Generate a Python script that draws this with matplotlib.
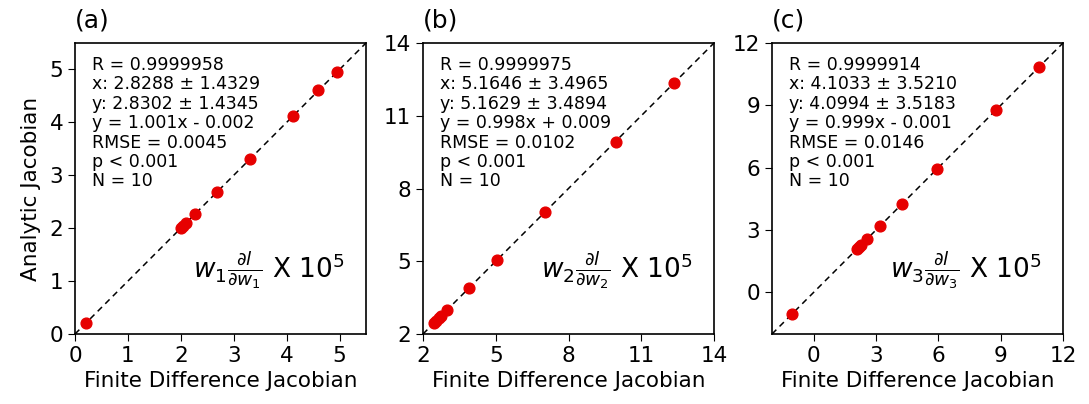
import numpy as np
import matplotlib.pyplot as plt

# finite difference vs analytic jacobian values (x 1e5)
fd_w1 = [0.20, 2.00, 2.05, 2.10, 2.27, 2.68, 3.30, 4.12, 4.60, 4.95]
an_w1 = [0.20, 2.00, 2.05, 2.10, 2.27, 2.68, 3.30, 4.12, 4.61, 4.96]
fd_w2 = [2.45, 2.55, 2.65, 2.75, 3.00, 3.90, 5.05, 7.05, 9.95, 12.35]
an_w2 = [2.45, 2.55, 2.65, 2.75, 3.00, 3.90, 5.05, 7.05, 9.93, 12.33]
fd_w3 = [-1.05, 2.10, 2.20, 2.30, 2.55, 3.20, 4.25, 5.95, 8.80, 10.85]
an_w3 = [-1.05, 2.10, 2.20, 2.30, 2.55, 3.20, 4.25, 5.95, 8.78, 10.83]

stats_w1 = ["R = 0.9999958", "x: 2.8288 ± 1.4329", "y: 2.8302 ± 1.4345",
            "y = 1.001x - 0.002", "RMSE = 0.0045", "p < 0.001", "N = 10"]
stats_w2 = ["R = 0.9999975", "x: 5.1646 ± 3.4965", "y: 5.1629 ± 3.4894",
            "y = 0.998x + 0.009", "RMSE = 0.0102", "p < 0.001", "N = 10"]
stats_w3 = ["R = 0.9999914", "x: 4.1033 ± 3.5210", "y: 4.0994 ± 3.5183",
            "y = 0.999x - 0.001", "RMSE = 0.0146", "p < 0.001", "N = 10"]

panels = [
  ("(a)", fd_w1, an_w1, stats_w1, (0, 5.5), [0, 1, 2, 3, 4, 5], r"$w_1\frac{\partial l}{\partial w_1}$ X $10^5$"),
  ("(b)", fd_w2, an_w2, stats_w2, (2, 14), [2, 5, 8, 11, 14], r"$w_2\frac{\partial l}{\partial w_2}$ X $10^5$"),
  ("(c)", fd_w3, an_w3, stats_w3, (-2, 12), [0, 3, 6, 9, 12], r"$w_3\frac{\partial l}{\partial w_3}$ X $10^5$"),
]

fig = plt.figure(figsize=(10.89, 4.04), dpi=100)
lefts = [75, 423, 772]
for i, (tag, xs, ys, stats, lim, ticks, label) in enumerate(panels):
  ax = fig.add_axes([lefts[i]/1089, (404-334)/404, 291/1089, 291/404])
  ax.plot(lim, lim, color='k', linestyle=(0, (4, 3)), lw=1.1, zorder=1)
  ax.scatter(xs, ys, s=60, c='#e60000', edgecolors='#e60000', zorder=2)
  ax.set_xlim(lim)
  ax.set_ylim(lim)
  ax.set_xticks(ticks)
  ax.set_yticks(ticks)
  ax.tick_params(labelsize=15.5, length=5)
  for sp in ax.spines.values():
    sp.set_linewidth(1.2)
  ax.set_xlabel("Finite Difference Jacobian", fontsize=15.5)
  if i == 0:
    ax.set_ylabel("Analytic Jacobian", fontsize=15.5, labelpad=6)
  ax.text(0.06, 0.955, "\n".join(stats), transform=ax.transAxes, fontsize=12.5,
          va='top', ha='left', linespacing=1.1)
  ax.text(0.405, 0.22, label, transform=ax.transAxes, fontsize=19, va='center', ha='left')
  ax.text(0.0, 1.035, tag, transform=ax.transAxes, fontsize=18, va='bottom', ha='left')

fig.savefig("out.png", dpi=100)
